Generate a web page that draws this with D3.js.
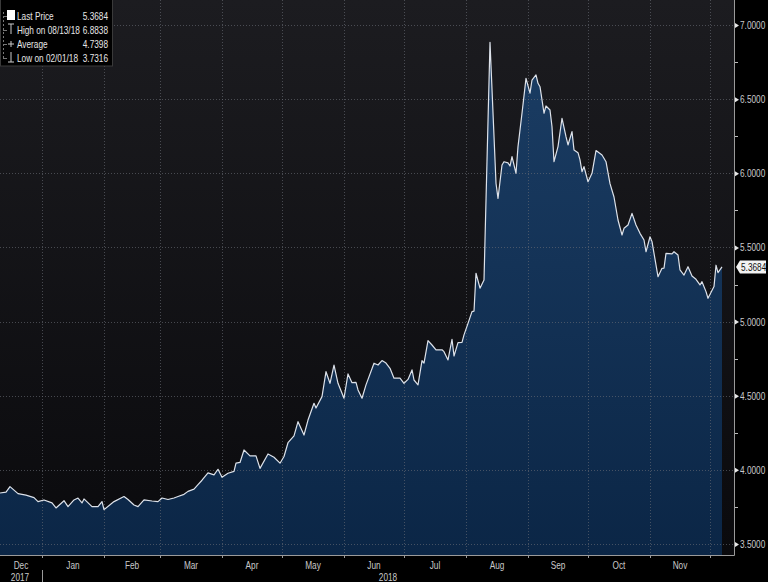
<!DOCTYPE html>
<html><head><meta charset="utf-8">
<script src="https://cdn.jsdelivr.net/npm/d3@7"></script>
<style>
html,body{margin:0;padding:0;background:#000;}
svg{display:block;}
text{font-family:"Liberation Sans","Arial",sans-serif;}
</style></head>
<body><svg id="c" width="768" height="582"></svg>
<script>
const dates = ["2017-12-11","2017-12-14","2017-12-16","2017-12-20","2017-12-24","2017-12-28","2017-12-30",
"2018-01-02","2018-01-06","2018-01-08","2018-01-12","2018-01-14","2018-01-17","2018-01-19","2018-01-21","2018-01-22","2018-01-26","2018-01-29","2018-01-31",
"2018-02-01","2018-02-06","2018-02-11","2018-02-13","2018-02-16","2018-02-18","2018-02-21","2018-02-25","2018-02-28",
"2018-03-02","2018-03-05","2018-03-08","2018-03-10","2018-03-13","2018-03-15","2018-03-18","2018-03-20","2018-03-22","2018-03-25","2018-03-28","2018-03-30",
"2018-04-01","2018-04-04","2018-04-07","2018-04-08","2018-04-10","2018-04-12","2018-04-15","2018-04-18","2018-04-20","2018-04-24","2018-04-27","2018-04-30",
"2018-05-02","2018-05-04","2018-05-07","2018-05-09","2018-05-12","2018-05-14","2018-05-17","2018-05-18","2018-05-21","2018-05-23","2018-05-25","2018-05-27","2018-05-29",
"2018-06-01","2018-06-03","2018-06-05","2018-06-07","2018-06-08","2018-06-10","2018-06-12","2018-06-16","2018-06-18","2018-06-20","2018-06-22","2018-06-24","2018-06-26","2018-06-29",
"2018-07-01","2018-07-03","2018-07-05","2018-07-06","2018-07-08","2018-07-10","2018-07-11","2018-07-13","2018-07-15","2018-07-17","2018-07-20","2018-07-21","2018-07-23","2018-07-25","2018-07-26","2018-07-28","2018-07-30","2018-07-31",
"2018-08-02","2018-08-04","2018-08-05","2018-08-06","2018-08-08","2018-08-10","2018-08-13","2018-08-16","2018-08-17","2018-08-19","2018-08-20","2018-08-22","2018-08-23","2018-08-24","2018-08-26","2018-08-27","2018-08-29","2018-08-31",
"2018-09-02","2018-09-03","2018-09-05","2018-09-06","2018-09-07","2018-09-09","2018-09-10","2018-09-12","2018-09-13","2018-09-14","2018-09-16","2018-09-18","2018-09-20","2018-09-21","2018-09-23","2018-09-24","2018-09-26","2018-09-27","2018-09-28","2018-09-29",
"2018-10-01","2018-10-03","2018-10-05","2018-10-08","2018-10-10","2018-10-12","2018-10-14","2018-10-16","2018-10-18","2018-10-19","2018-10-21","2018-10-23","2018-10-25","2018-10-27","2018-10-29","2018-10-30",
"2018-11-01","2018-11-02","2018-11-05","2018-11-07","2018-11-08","2018-11-09","2018-11-12","2018-11-13","2018-11-15","2018-11-16","2018-11-18","2018-11-20","2018-11-22","2018-11-24","2018-11-26","2018-11-27","2018-11-29","2018-11-30",
"2018-12-03","2018-12-04","2018-12-05","2018-12-07"];
const prices = [3.844,3.85,3.887,3.84,3.83,3.813,3.786,
3.797,3.777,3.743,3.792,3.752,3.797,3.81,3.777,3.804,3.752,3.752,3.786,
3.7316,3.786,3.82,3.80,3.763,3.752,3.797,3.79,3.786,
3.81,3.80,3.81,3.82,3.835,3.855,3.87,3.90,3.93,3.98,3.966,4.004,
3.95,3.977,3.99,4.045,4.05,4.134,4.094,4.094,4.01,4.107,4.085,4.045,
4.09,4.183,4.229,4.325,4.235,4.336,4.449,4.417,4.494,4.662,4.584,4.707,4.584,
4.483,4.647,4.588,4.59,4.539,4.483,4.573,4.719,4.707,4.737,4.72,4.685,4.618,4.618,
4.584,4.61,4.674,4.606,4.573,4.737,4.72,4.871,4.842,4.809,4.81,4.797,4.741,4.88,4.768,4.858,4.86,4.91,
4.988,5.067,5.07,5.326,5.225,5.28,6.8838,5.933,5.831,6.056,6.078,6.07,6.049,6.112,6.0,6.18,6.405,6.64,
6.54,6.629,6.663,6.607,6.584,6.405,6.454,6.427,6.314,6.078,6.18,6.371,6.247,6.191,6.281,6.157,6.139,6.09,6.011,6.045,
5.943,6.0,6.153,6.123,6.078,5.93,5.84,5.685,5.584,5.629,5.651,5.73,5.651,5.595,5.55,5.471,
5.572,5.539,5.303,5.359,5.36,5.46,5.456,5.471,5.449,5.348,5.314,5.37,5.307,5.285,5.247,5.269,5.202,5.157,
5.236,5.38,5.33,5.3684];
const yTicks = [3.5,4.0,4.5,5.0,5.5,6.0,6.5,7.0];
const yMinor = [3.75,4.25,4.75,5.25,5.75,6.25,6.75];
const monthLabels = ["Dec","Jan","Feb","Mar","Apr","May","Jun","Jul","Aug","Sep","Oct","Nov"];
const yearLabels = ["2017","2018"];
const legendRows = [["Last Price","5.3684"],["High on 08/13/18","6.8838"],["Average","4.7398"],["Low on 02/01/18","3.7316"]];
const lastPrice = 5.3684;

const parse = d3.timeParse("%Y-%m-%d");
const data = dates.map((d,i)=>({date:parse(d),v:prices[i]}));

const svg = d3.select("#c");
const W = 768, H = 582, plotR = 734, plotB = 555;
const x = d3.scaleTime().domain([parse("2017-12-11"), parse("2018-12-13")]).range([0, plotR]);
const y = d3.scaleLinear().domain([3.5, 7]).range([544, 25]);

const defs = svg.append("defs");
const bg = defs.append("linearGradient").attr("id","bg").attr("x1",0).attr("x2",0).attr("y1",0).attr("y2",1);
bg.append("stop").attr("offset","0%").attr("stop-color","#1c1c20");
bg.append("stop").attr("offset","100%").attr("stop-color","#0a0a0d");
const ag = defs.append("linearGradient").attr("id","ag").attr("gradientUnits","userSpaceOnUse").attr("x1",0).attr("x2",0).attr("y1",40).attr("y2",plotB);
ag.append("stop").attr("offset","0%").attr("stop-color","#1b3d64");
ag.append("stop").attr("offset","100%").attr("stop-color","#0b2646");

svg.append("rect").attr("width",W).attr("height",H).attr("fill","#000");
svg.append("rect").attr("x",0).attr("y",0).attr("width",plotR).attr("height",plotB).attr("fill","url(#bg)");

// area
const area = d3.area().x(d=>x(d.date)).y0(plotB).y1(d=>y(d.v));
svg.append("path").datum(data).attr("d",area).attr("fill","url(#ag)");

// grid
const monthStarts = d3.timeMonth.range(parse("2018-01-01"), parse("2018-12-02"));
svg.append("g").selectAll("line").data(monthStarts).join("line")
  .attr("x1",d=>Math.round(x(d))+0.5).attr("x2",d=>Math.round(x(d))+0.5).attr("y1",0).attr("y2",plotB)
  .attr("stroke","#6a6e76").attr("stroke-opacity",0.6).attr("stroke-dasharray","1,2");
svg.append("g").selectAll("line").data(yTicks).join("line")
  .attr("x1",0).attr("x2",plotR).attr("y1",d=>Math.round(y(d))+0.5).attr("y2",d=>Math.round(y(d))+0.5)
  .attr("stroke","#6a6e76").attr("stroke-opacity",0.6).attr("stroke-dasharray","1,2");

// line
const line = d3.line().x(d=>x(d.date)).y(d=>y(d.v));
svg.append("path").datum(data).attr("d",line).attr("fill","none").attr("stroke","#dde2ea").attr("stroke-width",1.2).attr("stroke-linejoin","round");

// right axis
const yAxis = d3.axisRight(y).tickValues(yTicks).tickFormat(d3.format(".4f")).tickSize(0).tickPadding(6);
const ga = svg.append("g").attr("transform",`translate(${plotR},0)`).call(yAxis);
ga.select(".domain").remove();
ga.selectAll("text").attr("fill","#c9c9c9").attr("font-size",11).attr("font-family",null);
ga.selectAll(".tick").append("path").attr("d","M1,-2.5L5,0L1,2.5Z").attr("fill","#e8e8e8");
svg.append("g").selectAll("line").data(yMinor).join("line")
  .attr("x1",plotR+1).attr("x2",plotR+4).attr("y1",d=>Math.round(y(d))+0.5).attr("y2",d=>Math.round(y(d))+0.5)
  .attr("stroke","#bbb");
svg.append("line").attr("x1",plotR+0.5).attr("x2",plotR+0.5).attr("y1",0).attr("y2",plotB+0.5).attr("stroke","#9a9a9a");
svg.append("line").attr("x1",0).attr("x2",plotR+0.5).attr("y1",plotB+0.5).attr("y2",plotB+0.5).attr("stroke","#9a9a9a");

// bottom axis ticks + labels
const xAxis = d3.axisBottom(x).tickValues(monthStarts).tickSize(3).tickFormat("");
const gx = svg.append("g").attr("transform",`translate(0,${plotB})`).call(xAxis);
gx.select(".domain").remove();
gx.selectAll("line").attr("stroke","#9a9a9a");
const bounds = [parse("2017-12-11")].concat(monthStarts);
const monthCenters = bounds.slice(0,-1).map((d,i)=>new Date((+d + +bounds[i+1])/2));
svg.append("g").selectAll("text").data(monthLabels).join("text")
  .attr("x",(d,i)=>x(monthCenters[i])).attr("y",569).attr("text-anchor","middle")
  .attr("fill","#c9c9c9").attr("font-size",11).text(d=>d);
svg.append("text").attr("x",x(parse("2017-12-21"))).attr("y",581).attr("text-anchor","middle").attr("fill","#c9c9c9").attr("font-size",11).text(yearLabels[0]);
svg.append("text").attr("x",(x(parse("2018-01-01"))+plotR)/2).attr("y",581).attr("text-anchor","middle").attr("fill","#c9c9c9").attr("font-size",11).text(yearLabels[1]);
svg.append("line").attr("x1",Math.round(x(parse("2018-01-01")))+0.5).attr("x2",Math.round(x(parse("2018-01-01")))+0.5).attr("y1",570).attr("y2",582).attr("stroke","#9a9a9a");

// last price tag
const ly = y(lastPrice);
svg.append("path").attr("d",`M${plotR+2},${ly} L${plotR+6},${ly-6.5} H766 V${ly+6.5} H${plotR+6} Z`).attr("fill","#f2f2f2");
svg.append("text").attr("x",plotR+7).attr("y",ly+4).attr("fill","#111").attr("font-size",11).text(d3.format(".4f")(lastPrice));

// legend
const lg = svg.append("g");
lg.append("rect").attr("x",0.5).attr("y",-1).attr("width",112).attr("height",67).attr("fill","#000").attr("stroke","#3a3a3a");
const rowY = [16,30,44,58];
lg.append("line").attr("x1",3.5).attr("x2",3.5).attr("y1",12).attr("y2",58).attr("stroke","#777").attr("stroke-dasharray","2,2");
rowY.forEach((ry)=>{ lg.append("line").attr("x1",3).attr("x2",7).attr("y1",ry+0.5).attr("y2",ry+0.5).attr("stroke","#777"); });
lg.append("rect").attr("x",7).attr("y",rowY[0]-6).attr("width",8).attr("height",10).attr("fill","#fff");
lg.append("path").attr("d",`M8,${rowY[1]-6}H14M11,${rowY[1]-6}V${rowY[1]+4}`).attr("stroke","#ccc").attr("fill","none");
lg.append("path").attr("d",`M8,${rowY[2]}H14M11,${rowY[2]-3}V${rowY[2]+3}`).attr("stroke","#ccc").attr("fill","none");
lg.append("path").attr("d",`M8,${rowY[3]+4}H14M11,${rowY[3]-6}V${rowY[3]+4}`).attr("stroke","#ccc").attr("fill","none");
legendRows.forEach((r,i)=>{
  lg.append("text").attr("x",17).attr("y",rowY[i]+4).attr("fill","#e6e6e6").attr("font-size",11).text(r[0]);
  lg.append("text").attr("x",108).attr("y",rowY[i]+4).attr("text-anchor","end").attr("fill","#e6e6e6").attr("font-size",11).text(r[1]);
});

// condense all text (narrow look) via horizontal scale transform
svg.selectAll("text").each(function(){
  const t = d3.select(this);
  const tx = +(t.attr("x")||0), ty = +(t.attr("y")||0);
  t.attr("x",0).attr("y",0).attr("transform",`translate(${tx},${ty}) scale(0.75,1)`);
});
</script></body></html>
